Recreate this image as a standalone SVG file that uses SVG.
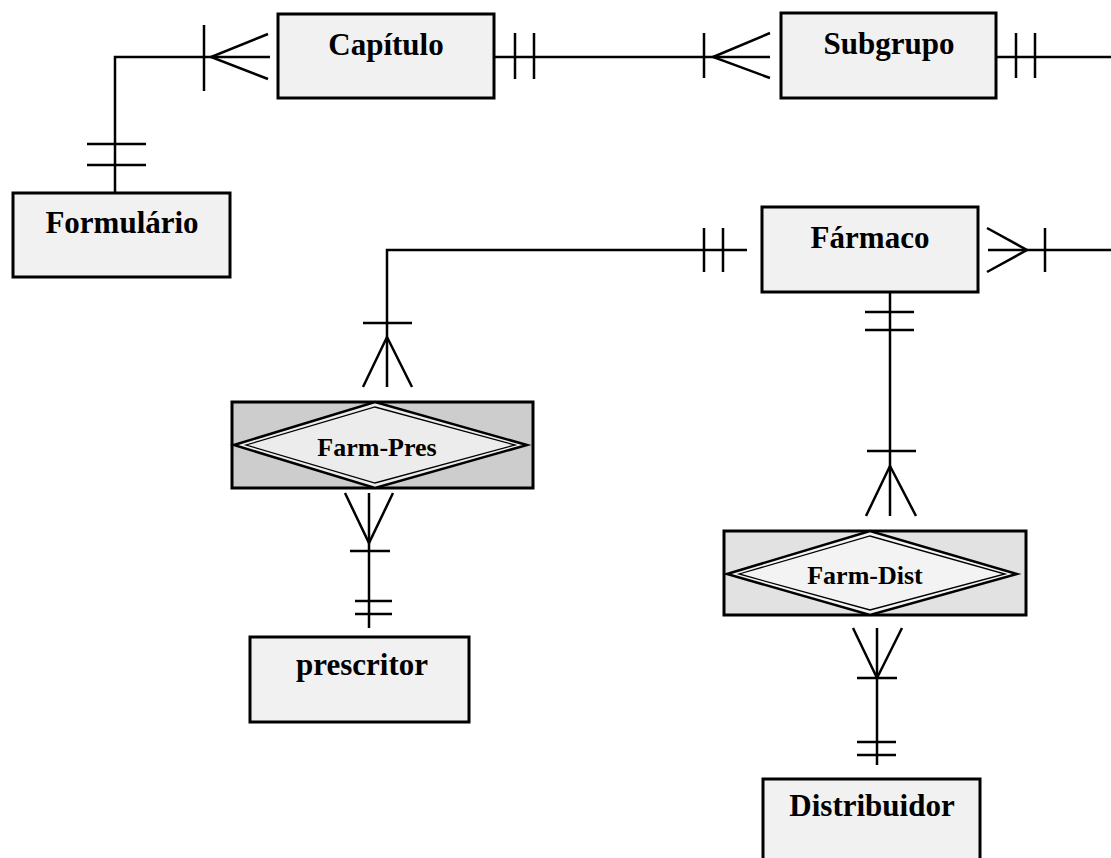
<svg xmlns="http://www.w3.org/2000/svg" width="1111" height="858" viewBox="0 0 1111 858">
<style>
.box{fill:#f1f1f1;stroke:#000;stroke-width:3}
.rbox{stroke:#000;stroke-width:3}
.dia{fill:none;stroke:#000;stroke-width:2.5}
.dia2{fill:none;stroke:#000;stroke-width:1.3}
.lbl{font-family:"Liberation Serif","Times New Roman",serif;font-weight:bold;font-size:31px;text-anchor:middle;fill:#000}
.rlbl{font-family:"Liberation Serif","Times New Roman",serif;font-weight:bold;font-size:26px;text-anchor:middle;fill:#000}
.ln{fill:none;stroke:#000;stroke-width:2.5}
</style>
<rect width="1111" height="858" fill="#fff"/>
<g id="connectors" class="ln">
  <!-- Formulario - Capitulo -->
  <path d="M115,193 V57 H270"/>
  <path d="M87,144 H146 M87,165 H146"/>
  <path d="M204,25 V91"/>
  <path d="M268,34 L211,57 L268,79"/>
  <!-- Capitulo - Subgrupo -->
  <path d="M494,57 H770"/>
  <path d="M515,33 V79 M534,33 V79"/>
  <path d="M704,33 V78"/>
  <path d="M770,33 L713,57 L770,78"/>
  <!-- Subgrupo right -->
  <path d="M996,57 H1111"/>
  <path d="M1016,33 V78 M1035,33 V78"/>
  <!-- Farmaco right -->
  <path d="M988,250 H1111"/>
  <path d="M987,228 L1027,250 L987,272"/>
  <path d="M1045,228 V272"/>
  <!-- Farmaco - Farm-Pres -->
  <path d="M747,250 H387 V387"/>
  <path d="M704,228 V272 M723,228 V272"/>
  <path d="M363,323 H412"/>
  <path d="M363,387 L387,337 L412,387"/>
  <!-- Farm-Pres - prescritor -->
  <path d="M345,493 L369,543 L393,493"/>
  <path d="M369,493 V628"/>
  <path d="M350,551 H390 M355,601 H392 M355,614 H392"/>
  <!-- Farmaco - Farm-Dist -->
  <path d="M890,292 V516"/>
  <path d="M865,312 H914 M865,330 H914"/>
  <path d="M867,451 H916"/>
  <path d="M866,516 L890,466 L916,516"/>
  <!-- Farm-Dist - Distribuidor -->
  <path d="M853,628 L877,678 L902,628"/>
  <path d="M877,628 V765"/>
  <path d="M857,678 H897 M857,742 H896 M857,755 H896"/>
</g>
<g id="capitulo">
  <rect class="box" x="278" y="14" width="216" height="84"/>
  <text class="lbl" x="386" y="55">Capítulo</text>
</g>
<g id="subgrupo">
  <rect class="box" x="781" y="13" width="215" height="85"/>
  <text class="lbl" x="889" y="54">Subgrupo</text>
</g>
<g id="formulario">
  <rect class="box" x="13" y="193" width="217" height="84"/>
  <text class="lbl" x="122" y="233">Formulário</text>
</g>
<g id="farmaco">
  <rect class="box" x="762" y="207" width="216" height="85"/>
  <text class="lbl" x="870" y="248">Fármaco</text>
</g>
<g id="farm-pres">
  <rect class="rbox" x="232" y="402" width="301" height="86" fill="#cdcdcd"/>
  <polygon points="234,445 375,402 527,445 375,488" fill="#ececec" stroke="none"/>
  <polygon class="dia" points="234,445 375,402 527,445 375,488"/>
  <polygon class="dia2" points="246,445 375,407 515,445 375,483"/>
  <text class="rlbl" x="377" y="456">Farm-Pres</text>
</g>
<g id="prescritor">
  <rect class="box" x="250" y="637" width="219" height="85"/>
  <text class="lbl" x="362" y="675">prescritor</text>
</g>
<g id="farm-dist">
  <rect class="rbox" x="724" y="531" width="302" height="84" fill="#e2e2e2"/>
  <polygon points="727,574 870,531 1017,574 870,615" fill="#f3f3f3" stroke="none"/>
  <polygon class="dia" points="727,574 870,531 1017,574 870,615"/>
  <polygon class="dia2" points="739,574 870,536 1005,574 870,610"/>
  <text class="rlbl" x="865" y="584">Farm-Dist</text>
</g>
<g id="distribuidor">
  <rect class="box" x="763" y="779" width="217" height="95"/>
  <text class="lbl" x="872" y="816">Distribuidor</text>
</g>
</svg>
